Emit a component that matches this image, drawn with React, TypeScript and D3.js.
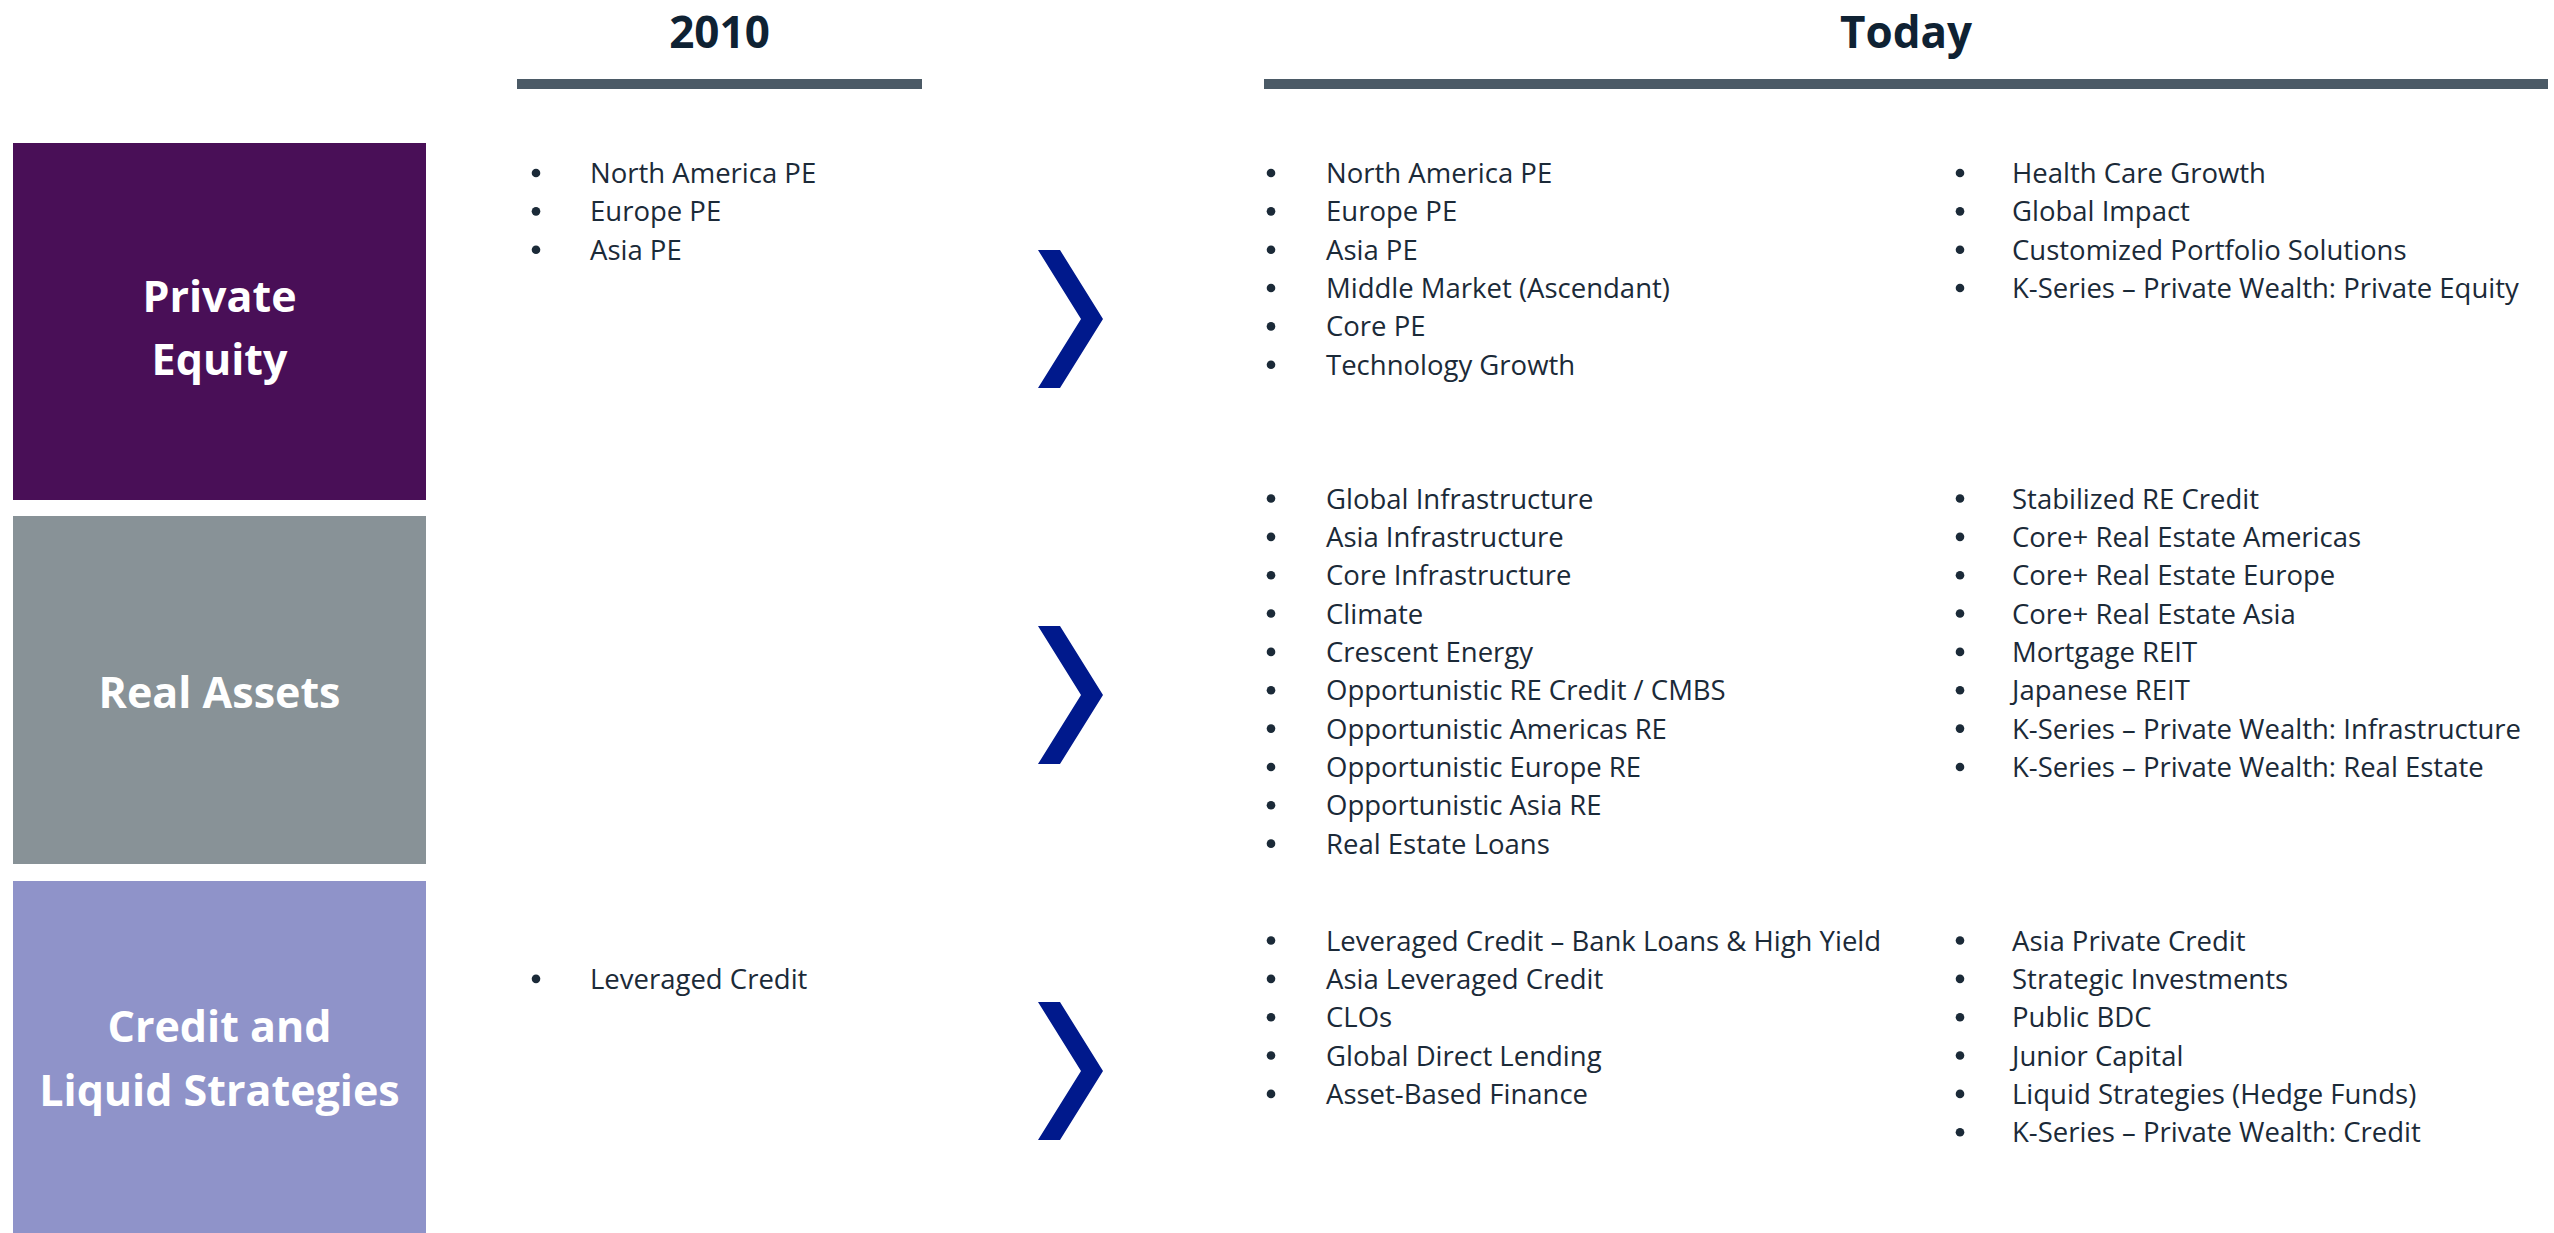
import React from "react";
import * as d3 from "d3";

const headers = [
  { label: "2010", x0: 517, x1: 922 },
  { label: "Today", x0: 1264, x1: 2548 },
];

const sectionNames = ["Private Equity", "Real Assets", "Credit and Liquid Strategies"];
const sectionLabelLines = [["Private", "Equity"], ["Real Assets"], ["Credit and", "Liquid Strategies"]];
const sectionColors = ["#490f57", "#889297", "#8f93c9"];

const items2010 = [
  ["North America PE", "Europe PE", "Asia PE"],
  [],
  ["", "Leveraged Credit"],
];

const itemsTodayCol1 = [
  ["North America PE", "Europe PE", "Asia PE", "Middle Market (Ascendant)", "Core PE", "Technology Growth"],
  [
    "Global Infrastructure",
    "Asia Infrastructure",
    "Core Infrastructure",
    "Climate",
    "Crescent Energy",
    "Opportunistic RE Credit / CMBS",
    "Opportunistic Americas RE",
    "Opportunistic Europe RE",
    "Opportunistic Asia RE",
    "Real Estate Loans",
  ],
  [
    "Leveraged Credit \u2013 Bank Loans & High Yield",
    "Asia Leveraged Credit",
    "CLOs",
    "Global Direct Lending",
    "Asset-Based Finance",
  ],
];

const itemsTodayCol2 = [
  ["Health Care Growth", "Global Impact", "Customized Portfolio Solutions", "K-Series \u2013 Private Wealth: Private Equity"],
  [
    "Stabilized RE Credit",
    "Core+ Real Estate Americas",
    "Core+ Real Estate Europe",
    "Core+ Real Estate Asia",
    "Mortgage REIT",
    "Japanese REIT",
    "K-Series \u2013 Private Wealth: Infrastructure",
    "K-Series \u2013 Private Wealth: Real Estate",
  ],
  [
    "Asia Private Credit",
    "Strategic Investments",
    "Public BDC",
    "Junior Capital",
    "Liquid Strategies (Hedge Funds)",
    "K-Series \u2013 Private Wealth: Credit",
  ],
];

// layout (pixels)
const W = 2554;
const H = 1233;
const boxTop = [143, 516, 881];
const boxBottom = [500, 864, 1233];
const firstRowBaseline = [183, 508.5, 950.5];
const labelBaselines = [[312, 375], [708], [1042, 1106]];
const chevronCenters = [319, 695, 1071];
const ROW_STEP = 38.35;

const TEXT = "#1b2a38";
const FONT = "'Open Sans', 'Noto Sans', sans-serif";

export default function App() {
  const boxX = d3.scaleLinear().domain([0, 1]).range([13, 426]);
  const rowY = (s: number, i: number) =>
    d3.scaleLinear().domain([0, 1]).range([firstRowBaseline[s], firstRowBaseline[s] + ROW_STEP])(i);

  const columns = [
    { items: items2010, bulletX: 536, textX: 590 },
    { items: itemsTodayCol1, bulletX: 1271, textX: 1326 },
    { items: itemsTodayCol2, bulletX: 1960, textX: 2012 },
  ];

  const chevron = (cy: number) => {
    const h = 69;
    const line = d3.line();
    return (
      line([
        [1038, cy - h],
        [1060, cy - h],
        [1103, cy],
        [1060, cy + h],
        [1038, cy + h],
        [1081, cy],
      ]) + "Z"
    );
  };

  return (
    <svg width={W} height={H} style={{ display: "block", position: "absolute", left: 0, top: 0 }} fontFamily={FONT}>
      <style>{`body{margin:0}`}</style>
      <rect x={0} y={0} width={W} height={H} fill="#ffffff" />
      {headers.map((h) => (
        <g key={h.label}>
          <text
            x={(h.x0 + h.x1) / 2}
            y={48}
            textAnchor="middle"
            fontSize={44}
            fontWeight={700}
            fill="#0f2233"
          >
            {h.label}
          </text>
          <rect x={h.x0} y={79} width={h.x1 - h.x0} height={10} fill="#4b5a66" />
        </g>
      ))}

      {sectionNames.map((name, s) => (
        <g key={name}>
          <rect
            x={boxX(0)}
            y={boxTop[s]}
            width={boxX(1) - boxX(0)}
            height={boxBottom[s] - boxTop[s]}
            fill={sectionColors[s]}
          />
          {sectionLabelLines[s].map((ln, k) => (
            <text
              key={k}
              x={(boxX(0) + boxX(1)) / 2}
              y={labelBaselines[s][k]}
              textAnchor="middle"
              fontSize={43}
              fontWeight={700}
              fill="#ffffff"
            >
              {ln}
            </text>
          ))}
          <path d={chevron(chevronCenters[s])} fill="#00198c" />
          {columns.map((col, c) =>
            col.items[s].map((it, i) =>
              it ? (
                <g key={`${c}-${i}`}>
                  <circle cx={col.bulletX} cy={rowY(s, i) - 10} r={4.3} fill={TEXT} />
                  <text x={col.textX} y={rowY(s, i)} fontSize={27.5} fill={TEXT}>
                    {it}
                  </text>
                </g>
              ) : null
            )
          )}
        </g>
      ))}
    </svg>
  );
}
